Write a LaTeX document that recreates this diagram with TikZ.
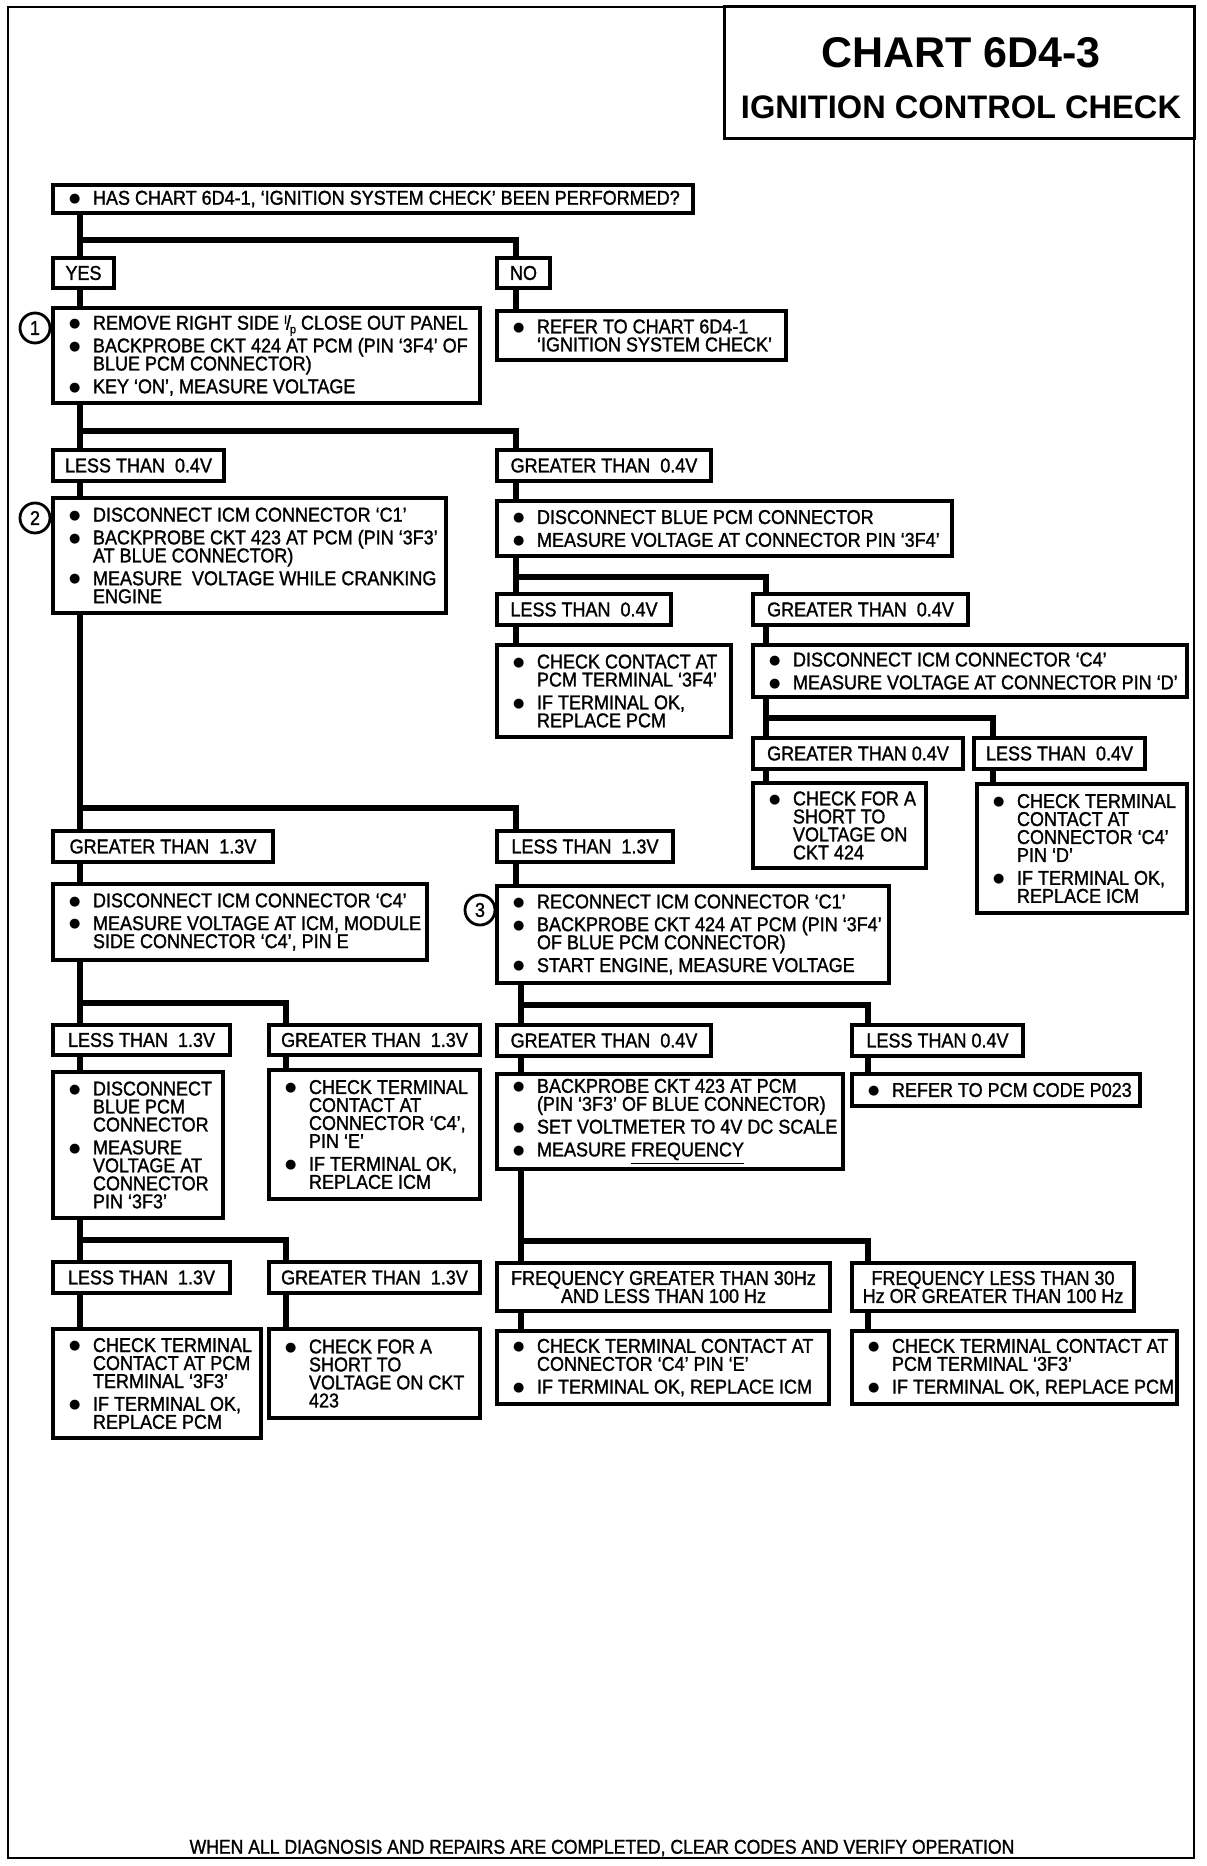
\documentclass[tikz,border=0pt]{standalone}
\usepackage{fontspec}
\setmainfont{Liberation Sans}[FakeStretch=0.9,FakeBold=1.3]
\newfontfamily\titlefont{Liberation Sans}
\newfontfamily\footfont{Liberation Sans}[FakeStretch=0.88,FakeBold=1.3]
\newfontfamily\bulfont{DejaVu Sans}
\usetikzlibrary{calc}
\newcommand{\bodyfont}{\fontsize{10pt}{9pt}\selectfont\lineskiplimit=-20pt\relax}
\newcommand{\bul}{\raisebox{1.1pt}{\bulfont\fontsize{6.5pt}{6pt}\selectfont ●}}
\newcommand{\itm}{\makebox[12pt][l]{\bul}}
\newcommand{\cnt}{\hspace*{12pt}}
\newcommand{\ipx}{\raisebox{0.55ex}{\fontsize{6pt}{6pt}\selectfont I}\kern-0.05em/\kern-0.05em\raisebox{-0.35ex}{\fontsize{6pt}{6pt}\selectfont p}}
\tikzset{
 box/.style={draw, line width=1.6pt, inner xsep=8pt, inner ysep=0pt, font=\bodyfont},
 lbox/.style={draw, line width=1.6pt, inner sep=0pt, font=\bodyfont, align=center},
 conn/.style={line width=2.6pt},
 circ/.style={draw, circle, line width=1.4pt, minimum size=15pt, inner sep=0pt, font=\fontsize{10pt}{10pt}\selectfont},
}
% bullet box: name x1 y1 x2 y2 lines
\newcommand{\bb}[6]{%
 \pgfmathsetlengthmacro{\myBW}{(#4-#2)*0.5pt}%
 \pgfmathsetlengthmacro{\myBH}{(#5-#3)*0.5pt}%
 \pgfmathsetlengthmacro{\myTW}{(#4-#2)*0.5pt-16pt}%
 \node[box, minimum width=\myBW, minimum height=\myBH] (#1) at ({(#2+#4)/2},{(#3+#5)/2})
   {\makebox[\myTW][l]{\begin{minipage}{400pt}\raggedright\baselineskip=9pt\lineskiplimit=-20pt\relax #6\end{minipage}}};}
% label box
\newcommand{\lb}[6]{%
 \pgfmathsetlengthmacro{\myBW}{(#4-#2)*0.5pt}%
 \pgfmathsetlengthmacro{\myBH}{(#5-#3)*0.5pt}%
 \node[lbox, minimum width=\myBW, minimum height=\myBH] (#1) at ({(#2+#4)/2},{(#3+#5)/2}) {#6};}
\newcommand{\gp}{\\[2.4pt]}
\begin{document}
\begin{tikzpicture}[x=0.5pt,y=-0.5pt]
\useasboundingbox (0,0) rectangle (1206,1866);
\fill[white] (0,0) rectangle (1206,1866);
% frame and title
\draw[line width=1.2pt] (8,7) rectangle (1194,1858);
\draw[line width=1.5pt] (724,7) rectangle (1194,139);
\node (t1) at (961,53) {\titlefont\bfseries\fontsize{21.5pt}{24pt}\selectfont CHART 6D4-3};
\node (t2) at (961,107) {\titlefont\bfseries\fontsize{16.3pt}{18pt}\selectfont IGNITION CONTROL CHECK};
\node (foot) at (602,1848) {\footfont\fontsize{10pt}{10pt}\selectfont WHEN ALL DIAGNOSIS AND REPAIRS ARE COMPLETED, CLEAR CODES AND VERIFY OPERATION};

% boxes
\bb{q}{53}{185}{693}{213}{\itm HAS CHART 6D4-1, ‘IGNITION SYSTEM CHECK’ BEEN PERFORMED?}
\lb{yes}{53}{258}{114}{288}{YES}
\lb{no}{497}{258}{550}{288}{NO}
\bb{b1}{53}{308}{480}{403}{\itm REMOVE RIGHT SIDE \ipx{} CLOSE OUT PANEL\gp \itm BACKPROBE CKT 424 AT PCM (PIN ‘3F4’ OF\\ \cnt BLUE PCM CONNECTOR)\gp \itm KEY ‘ON’, MEASURE VOLTAGE}
\bb{ref}{497}{311}{786}{360}{\itm REFER TO CHART 6D4-1\\ \cnt ‘IGNITION SYSTEM CHECK’}
\lb{lA}{53}{450}{224}{481}{LESS THAN\ \ 0.4V}
\lb{gB}{497}{450}{711}{481}{GREATER THAN\ \ 0.4V}
\bb{b2}{53}{498}{446}{613}{\itm DISCONNECT ICM CONNECTOR ‘C1’\gp \itm BACKPROBE CKT 423 AT PCM (PIN ‘3F3’\\ \cnt AT BLUE CONNECTOR)\gp \itm MEASURE\ \ VOLTAGE WHILE CRANKING\\ \cnt ENGINE}
\bb{bB}{497}{501}{952}{556}{\itm DISCONNECT BLUE PCM CONNECTOR\gp \itm MEASURE VOLTAGE AT CONNECTOR PIN ‘3F4’}
\lb{lC}{497}{594}{671}{625}{LESS THAN\ \ 0.4V}
\lb{gD}{753}{594}{968}{625}{GREATER THAN\ \ 0.4V}
\bb{bC}{497}{645}{731}{737}{\itm CHECK CONTACT AT\\ \cnt PCM TERMINAL ‘3F4’\gp \itm IF TERMINAL OK,\\ \cnt REPLACE PCM}
\bb{bD}{753}{645}{1187}{697}{\itm DISCONNECT ICM CONNECTOR ‘C4’\gp \itm MEASURE VOLTAGE AT CONNECTOR PIN ‘D’}
\lb{gE}{753}{738}{963}{769}{GREATER THAN 0.4V}
\lb{lF}{974}{738}{1145}{769}{LESS THAN\ \ 0.4V}
\bb{bE}{753}{783}{926}{868}{\itm CHECK FOR A\\ \cnt SHORT TO\\ \cnt VOLTAGE ON\\ \cnt CKT 424}
\bb{bF}{977}{784}{1187}{913}{\itm CHECK TERMINAL\\ \cnt CONTACT AT\\ \cnt CONNECTOR ‘C4’\\ \cnt PIN ‘D’\gp \itm IF TERMINAL OK,\\ \cnt REPLACE ICM}
\lb{gG}{53}{831}{273}{862}{GREATER THAN\ \ 1.3V}
\lb{lH}{497}{831}{673}{862}{LESS THAN\ \ 1.3V}
\bb{bG}{53}{884}{427}{960}{\itm DISCONNECT ICM CONNECTOR ‘C4’\gp \itm MEASURE VOLTAGE AT ICM, MODULE\\ \cnt SIDE CONNECTOR ‘C4’, PIN E}
\bb{bH}{497}{886}{889}{983}{\itm RECONNECT ICM CONNECTOR ‘C1’\gp \itm BACKPROBE CKT 424 AT PCM (PIN ‘3F4’\\ \cnt OF BLUE PCM CONNECTOR)\gp \itm START ENGINE, MEASURE VOLTAGE}
\lb{lI}{53}{1025}{230}{1055}{LESS THAN\ \ 1.3V}
\lb{gJ}{269}{1025}{480}{1055}{GREATER THAN\ \ 1.3V}
\bb{bI}{53}{1072}{223}{1218}{\itm DISCONNECT\\ \cnt BLUE PCM\\ \cnt CONNECTOR\gp \itm MEASURE\\ \cnt VOLTAGE AT\\ \cnt CONNECTOR\\ \cnt PIN ‘3F3’}
\bb{bJ}{269}{1070}{480}{1199}{\itm CHECK TERMINAL\\ \cnt CONTACT AT\\ \cnt CONNECTOR ‘C4’,\\ \cnt PIN ‘E’\gp \itm IF TERMINAL OK,\\ \cnt REPLACE ICM}
\lb{gK}{497}{1025}{711}{1056}{GREATER THAN\ \ 0.4V}
\lb{lL}{852}{1025}{1023}{1056}{LESS THAN 0.4V}
\bb{bK}{497}{1074}{843}{1169}{\itm BACKPROBE CKT 423 AT PCM\\ \cnt (PIN ‘3F3’ OF BLUE CONNECTOR)\gp \itm SET VOLTMETER TO 4V DC SCALE\gp \itm MEASURE \underline{FREQUENCY}}
\bb{bL}{852}{1074}{1140}{1106}{\itm REFER TO PCM CODE P023}
\lb{fM}{497}{1263}{830}{1311}{FREQUENCY GREATER THAN 30Hz\\AND LESS THAN 100 Hz}
\lb{fN}{852}{1263}{1134}{1311}{FREQUENCY LESS THAN 30\\Hz OR GREATER THAN 100 Hz}
\bb{bM}{497}{1331}{829}{1404}{\itm CHECK TERMINAL CONTACT AT\\ \cnt CONNECTOR ‘C4’ PIN ‘E’\gp \itm IF TERMINAL OK, REPLACE ICM}
\bb{bN}{852}{1331}{1177}{1404}{\itm CHECK TERMINAL CONTACT AT\\ \cnt PCM TERMINAL ‘3F3’\gp \itm IF TERMINAL OK, REPLACE PCM}
\lb{lP}{53}{1262}{230}{1293}{LESS THAN\ \ 1.3V}
\lb{gQ}{269}{1262}{480}{1293}{GREATER THAN\ \ 1.3V}
\bb{bP}{53}{1329}{261}{1438}{\itm CHECK TERMINAL\\ \cnt CONTACT AT PCM\\ \cnt TERMINAL ‘3F3’\gp \itm IF TERMINAL OK,\\ \cnt REPLACE PCM}
\bb{bQ}{269}{1329}{480}{1418}{\itm CHECK FOR A\\ \cnt SHORT TO\\ \cnt VOLTAGE ON CKT\\ \cnt 423}

% step numbers
\node[circ] (n1) at (35,328) {1};
\node[circ] (n2) at (35,518) {2};
\node[circ] (n3) at (480,910) {3};

% column and junction coordinates
\coordinate (cA) at (80,0);
\coordinate (cB) at (516,0);
\coordinate (cC) at (766,0);
\coordinate (cD) at (993,0);
\coordinate (cE) at (286,0);
\coordinate (cF) at (521,0);
\coordinate (cG) at (868,0);
\coordinate (j1) at (80,240);
\coordinate (j2) at (80,431);
\coordinate (j3) at (516,577);
\coordinate (j4) at (766,718);
\coordinate (j5) at (80,808);
\coordinate (j6) at (80,1003);
\coordinate (j7) at (521,1005);
\coordinate (j8) at (521,1241);
\coordinate (j9) at (80,1240);

% connectors
\draw[conn] (q.south -| cA) -- (yes.north -| cA);
\draw[conn] (j1) -| (no.north -| cB);
\draw[conn] (yes.south -| cA) -- (b1.north -| cA);
\draw[conn] (no.south -| cB) -- (ref.north -| cB);
\draw[conn] (b1.south -| cA) -- (lA.north -| cA);
\draw[conn] (j2) -| (gB.north -| cB);
\draw[conn] (lA.south -| cA) -- (b2.north -| cA);
\draw[conn] (gB.south -| cB) -- (bB.north -| cB);
\draw[conn] (bB.south -| cB) -- (lC.north -| cB);
\draw[conn] (j3) -| (gD.north -| cC);
\draw[conn] (lC.south -| cB) -- (bC.north -| cB);
\draw[conn] (gD.south -| cC) -- (bD.north -| cC);
\draw[conn] (bD.south -| cC) -- (gE.north -| cC);
\draw[conn] (j4) -| (lF.north -| cD);
\draw[conn] (gE.south -| cC) -- (bE.north -| cC);
\draw[conn] (lF.south -| cD) -- (bF.north -| cD);
\draw[conn] (b2.south -| cA) -- (gG.north -| cA);
\draw[conn] (j5) -| (lH.north -| cB);
\draw[conn] (gG.south -| cA) -- (bG.north -| cA);
\draw[conn] (lH.south -| cB) -- (bH.north -| cB);
\draw[conn] (bG.south -| cA) -- (lI.north -| cA);
\draw[conn] (j6) -| (gJ.north -| cE);
\draw[conn] (lI.south -| cA) -- (bI.north -| cA);
\draw[conn] (gJ.south -| cE) -- (bJ.north -| cE);
\draw[conn] (bH.south -| cF) -- (gK.north -| cF);
\draw[conn] (j7) -| (lL.north -| cG);
\draw[conn] (gK.south -| cF) -- (bK.north -| cF);
\draw[conn] (lL.south -| cG) -- (bL.north -| cG);
\draw[conn] (bK.south -| cF) -- (fM.north -| cF);
\draw[conn] (j8) -| (fN.north -| cG);
\draw[conn] (fM.south -| cF) -- (bM.north -| cF);
\draw[conn] (fN.south -| cG) -- (bN.north -| cG);
\draw[conn] (bI.south -| cA) -- (lP.north -| cA);
\draw[conn] (j9) -| (gQ.north -| cE);
\draw[conn] (lP.south -| cA) -- (bP.north -| cA);
\draw[conn] (gQ.south -| cE) -- (bQ.north -| cE);
\end{tikzpicture}
\end{document}
